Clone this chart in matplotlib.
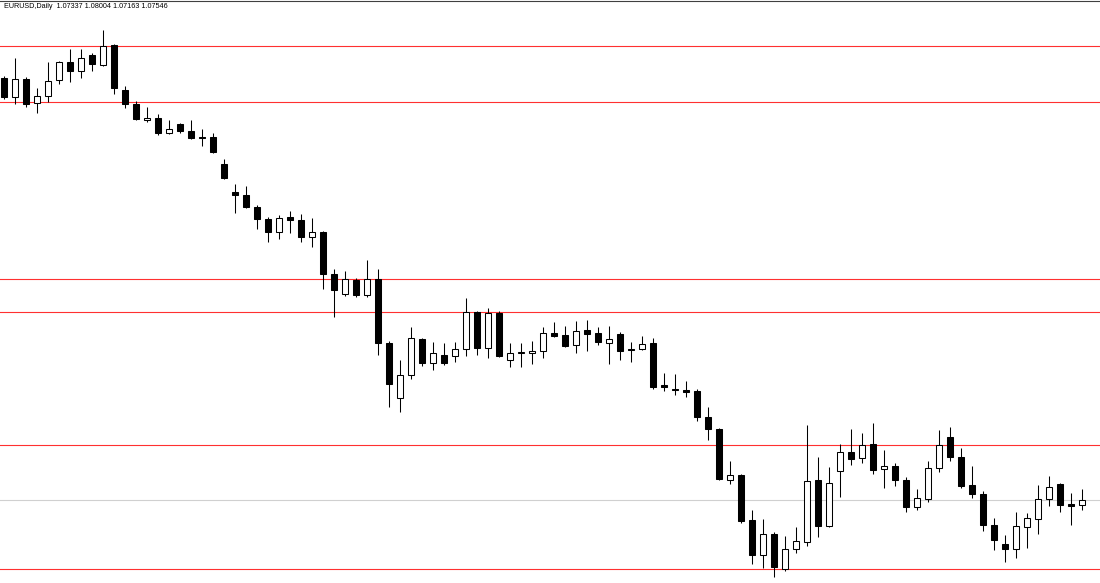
import matplotlib
matplotlib.use("Agg")
import matplotlib.pyplot as plt
import numpy as np

# EURUSD Daily candles (prices)
opens = [1.2443, 1.2367, 1.2439, 1.2343, 1.2371, 1.2435, 1.2507, 1.2471, 1.2535, 1.2495,
         1.2575, 1.2395, 1.2339, 1.2275, 1.2283, 1.2223, 1.2259, 1.2231, 1.2207, 1.2207,
         1.2099, 1.1987, 1.1975, 1.1927, 1.1879, 1.1827, 1.1887, 1.1875, 1.1807, 1.1827,
         1.1659, 1.1579, 1.1635, 1.1575, 1.1639, 1.1383, 1.1163, 1.1255, 1.1399, 1.1303,
         1.1335, 1.1331, 1.1359, 1.1507, 1.1363, 1.1503, 1.1315, 1.1343, 1.1343, 1.1351,
         1.1423, 1.1415, 1.1375, 1.1435, 1.1423, 1.1383, 1.1419, 1.1359, 1.1359, 1.1383,
         1.1215, 1.1199, 1.1195, 1.1191, 1.1087, 1.1039, 1.0835, 1.0855, 1.0675, 1.0535,
         1.0619, 1.0479, 1.0559, 1.0587, 1.0835, 1.0651, 1.0871, 1.0947, 1.0923, 1.0979,
         1.0879, 1.0891, 1.0835, 1.0727, 1.0759, 1.0883, 1.1007, 1.0927, 1.0815, 1.0779,
         1.0655, 1.0579, 1.0559, 1.0647, 1.0679, 1.0759, 1.0819, 1.0739, 1.07337]
highs = [1.2451, 1.2523, 1.2447, 1.2403, 1.2507, 1.2511, 1.2559, 1.2559, 1.2543, 1.2635,
         1.2579, 1.2411, 1.2351, 1.2327, 1.2299, 1.2275, 1.2263, 1.2275, 1.2239, 1.2223,
         1.2119, 1.2019, 1.2011, 1.1935, 1.1887, 1.1895, 1.1911, 1.1899, 1.1883, 1.1831,
         1.1679, 1.1671, 1.1643, 1.1715, 1.1679, 1.1391, 1.1315, 1.1447, 1.1403, 1.1387,
         1.1383, 1.1387, 1.1563, 1.1511, 1.1523, 1.1511, 1.1383, 1.1383, 1.1391, 1.1447,
         1.1467, 1.1451, 1.1471, 1.1475, 1.1447, 1.1451, 1.1427, 1.1387, 1.1411, 1.1403,
         1.1263, 1.1259, 1.1231, 1.1199, 1.1127, 1.1043, 1.0911, 1.0859, 1.0715, 1.0679,
         1.0627, 1.0611, 1.0647, 1.1055, 1.0927, 1.0887, 1.0979, 1.1039, 1.1023, 1.1063,
         1.0955, 1.0903, 1.0847, 1.0799, 1.0911, 1.1035, 1.1047, 1.0963, 1.0891, 1.0791,
         1.0683, 1.0615, 1.0707, 1.0703, 1.0815, 1.0851, 1.0823, 1.0783, 1.08004]
lows = [1.2359, 1.2339, 1.2327, 1.2303, 1.2347, 1.2419, 1.2427, 1.2443, 1.2471, 1.2491,
        1.2379, 1.2323, 1.2275, 1.2267, 1.2215, 1.2219, 1.2223, 1.2199, 1.2171, 1.2143,
        1.2039, 1.1903, 1.1923, 1.1839, 1.1787, 1.1799, 1.1823, 1.1787, 1.1767, 1.1599,
        1.1487, 1.1571, 1.1567, 1.1567, 1.1335, 1.1127, 1.1107, 1.1239, 1.1291, 1.1275,
        1.1295, 1.1307, 1.1331, 1.1335, 1.1323, 1.1327, 1.1287, 1.1287, 1.1299, 1.1323,
        1.1407, 1.1367, 1.1343, 1.1351, 1.1375, 1.1299, 1.1315, 1.1307, 1.1355, 1.1199,
        1.1191, 1.1175, 1.1167, 1.1071, 1.0995, 1.0835, 1.0819, 1.0663, 1.0499, 1.0483,
        1.0447, 1.0471, 1.0543, 1.0571, 1.0607, 1.0647, 1.0767, 1.0895, 1.0903, 1.0859,
        1.0803, 1.0811, 1.0707, 1.0715, 1.0747, 1.0867, 1.0911, 1.0803, 1.0763, 1.0631,
        1.0555, 1.0507, 1.0523, 1.0563, 1.0619, 1.0731, 1.0707, 1.0655, 1.07163]
closes = [1.2367, 1.2439, 1.2339, 1.2371, 1.2431, 1.2507, 1.2471, 1.2523, 1.2499, 1.2571,
          1.2403, 1.2339, 1.2279, 1.2283, 1.2223, 1.2239, 1.2231, 1.2203, 1.2203, 1.2147,
          1.2043, 1.1975, 1.1927, 1.1879, 1.1827, 1.1883, 1.1875, 1.1807, 1.1827, 1.1659,
          1.1595, 1.1639, 1.1575, 1.1639, 1.1383, 1.1219, 1.1255, 1.1403, 1.1303, 1.1343,
          1.1303, 1.1359, 1.1507, 1.1363, 1.1503, 1.1331, 1.1343, 1.1347, 1.1351, 1.1423,
          1.1411, 1.1371, 1.1431, 1.1419, 1.1387, 1.1399, 1.1351, 1.1355, 1.1379, 1.1207,
          1.1207, 1.1195, 1.1187, 1.1087, 1.1039, 1.0839, 1.0855, 1.0671, 1.0535, 1.0619,
          1.0487, 1.0559, 1.0591, 1.0831, 1.0651, 1.0823, 1.0947, 1.0919, 1.0975, 1.0875,
          1.0891, 1.0835, 1.0727, 1.0763, 1.0883, 1.0975, 1.0927, 1.0811, 1.0779, 1.0655,
          1.0595, 1.0559, 1.0651, 1.0683, 1.0759, 1.0807, 1.0735, 1.0731, 1.07546]

# horizontal support / resistance levels
levels = [1.2571, 1.2347, 1.1639, 1.1507, 1.0975, 1.0479]
last_price = 1.07546
title = "EURUSD,Daily  1.07337 1.08004 1.07163 1.07546"

W, H, DPI = 1100, 583, 100
fig = plt.figure(figsize=(W / DPI, H / DPI), dpi=DPI)
ax = fig.add_axes([0, 0, 1, 1])
ax.set_facecolor("white")

o = np.array(opens); h = np.array(highs); l = np.array(lows); c = np.array(closes)
x = np.arange(len(o))

for lv in levels:
    ax.axhline(lv, color="#ff3030", lw=0.8, zorder=1)
ax.axhline(last_price, color="#d0d0d0", lw=0.8, zorder=1)

ax.vlines(x, l, h, color="black", lw=0.75, zorder=2)
bottoms = np.minimum(o, c)
heights = np.abs(c - o)
fills = np.where(c >= o, "white", "black")
ax.bar(x, heights, bottom=bottoms, width=0.56, color=fills,
       edgecolor="black", linewidth=0.75, zorder=3)

ax.set_xlim(-4 / 11, (W - 4) / 11)
ax.set_ylim(1.2755 - 0.0004 * H, 1.2755)
ax.axis("off")

# window frame line at the top
fig.add_artist(plt.Line2D([0, 1], [1 - 0.5 / H, 1 - 0.5 / H], color="#404040", lw=0.8,
                          transform=fig.transFigure))

fig.text(4 / W, 1 - 7 / H, title, fontsize=5.2, family="Liberation Sans",
         va="center", ha="left", color="black")
fig.savefig("out.png", dpi=DPI)
